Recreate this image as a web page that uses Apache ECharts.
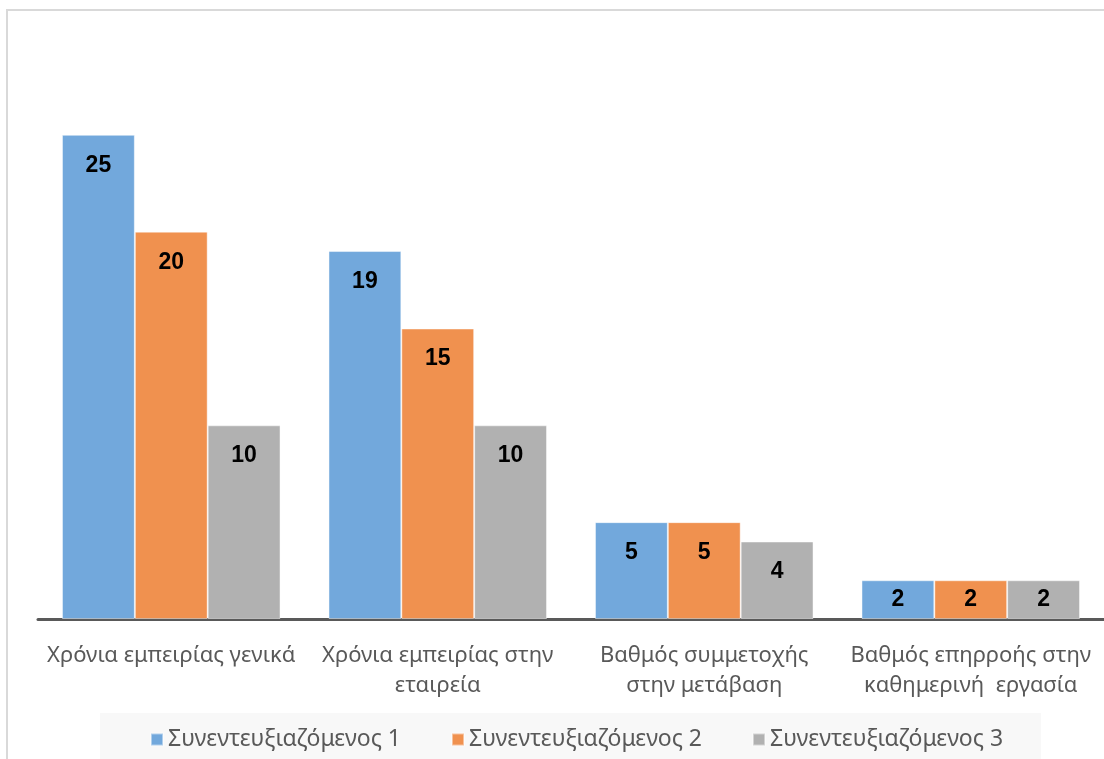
<!DOCTYPE html>
<html>
<head>
<meta charset="utf-8">
<script src="https://cdn.jsdelivr.net/npm/echarts@6/dist/echarts.min.js"></script>
<style>
    html, body { margin: 0; padding: 0; background: #fff; }
    #chart { width: 1104px; height: 759px; }
</style>
</head>
<body>
<div id="chart"></div>
<script>
const categories = [
    'Χρόνια εμπειρίας γενικά',
    'Χρόνια εμπειρίας στην\nεταιρεία',
    'Βαθμός συμμετοχής\nστην μετάβαση',
    'Βαθμός επηρροής στην\nκαθημερινή  εργασία'
]
const seriesNames = ['Συνεντευξιαζόμενος 1', 'Συνεντευξιαζόμενος 2', 'Συνεντευξιαζόμενος 3']
const interviewee1 = [25, 19, 5, 2]
const interviewee2 = [20, 15, 5, 2]
const interviewee3 = [10, 10, 4, 2]
const colors = ['#72a8dc', '#f0914f', '#b1b1b1']

let chartDom = document.getElementById('chart');
let myChart = echarts.init(chartDom);

let seriesList = [];
[interviewee1, interviewee2, interviewee3].forEach((values, i) => {
    // short bars get their label centred, like in the original
    let data = values.map(v => v < 3 ? { value: v, label: { position: 'inside' } } : v)
    seriesList.push({
        name: seriesNames[i],
        type: 'bar',
        data: data,
        barGap: '0%',
        barCategoryGap: '18%',
        itemStyle: {
            color: colors[i],
            borderColor: 'rgba(255,255,255,0.45)',
            borderWidth: 1
        },
        label: {
            show: true,
            position: 'insideTop',
            distance: 19,
            color: '#000',
            fontWeight: 'bold',
            fontSize: 23,
            fontFamily: 'Liberation Sans'
        }
    });
});

let option = {
    animation: false,
    textStyle: {
        fontFamily: 'Noto Sans'
    },
    graphic: [{
        type: 'rect',
        shape: { x: 7, y: 10, width: 1200, height: 800 },
        style: { fill: 'none', stroke: '#d9d9d9', lineWidth: 2 },
        z: -1
    }],
    grid: {
        top: 38,
        bottom: 140,
        left: 38,
        right: 0
    },
    legend: {
        top: 713,
        left: 100,
        itemWidth: 12,
        itemHeight: 12,
        itemGap: 50,
        itemTextGap: 8,
        icon: 'rect',
        padding: [15, 38, 22, 50],
        backgroundColor: '#f8f8f8',
        textStyle: {
            fontSize: 23,
            color: '#595959',
            fontFamily: 'Noto Sans'
        },
        data: seriesNames
    },
    xAxis: {
        type: 'category',
        data: categories,
        axisTick: { show: false },
        axisLine: { lineStyle: { color: '#595959', width: 3 } },
        axisLabel: {
            interval: 0,
            margin: 22,
            fontSize: 22,
            lineHeight: 30,
            color: '#595959',
            fontFamily: 'Noto Sans'
        }
    },
    yAxis: {
        type: 'value',
        min: 0,
        max: 30,
        show: false,
        splitLine: { show: false }
    },
    series: seriesList
};
option && myChart.setOption(option);
</script>
</body>
</html>
